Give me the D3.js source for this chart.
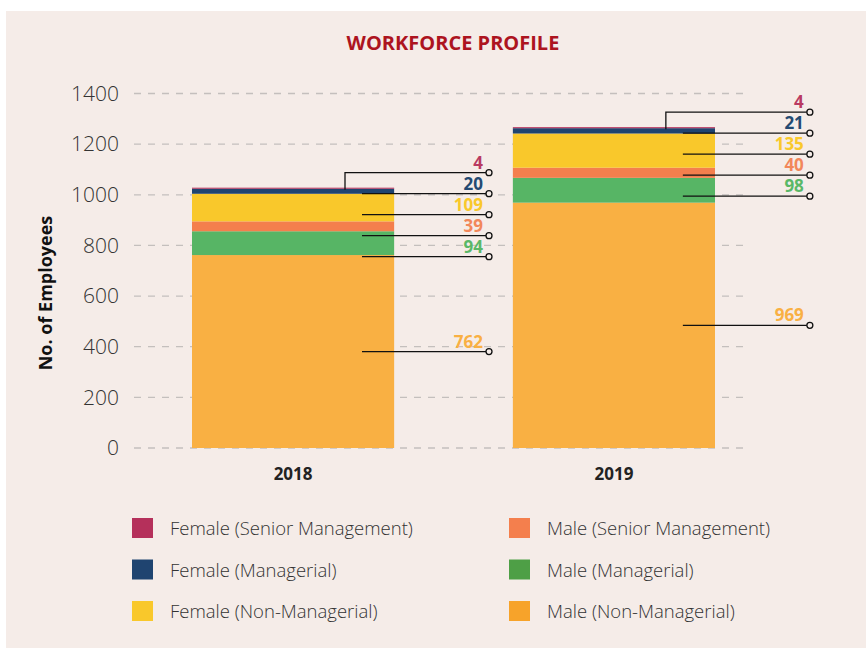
<!DOCTYPE html>
<html>
<head>
<meta charset="utf-8">
<script src="https://cdn.jsdelivr.net/npm/d3@7"></script>
<style>
  html, body { margin: 0; padding: 0; background: #fff; }
  svg text { font-family: "Open Sans", "Noto Sans", sans-serif; }
</style>
</head>
<body>
<div id="chart"></div>
<script>
// data
const years = ["2018", "2019"];
const groups = [
  "Male (Non-Managerial)", "Male (Managerial)", "Male (Senior Management)",
  "Female (Non-Managerial)", "Female (Managerial)", "Female (Senior Management)"
];
const maleNonManagerial = [762, 969];
const maleManagerial = [94, 98];
const maleSenior = [39, 40];
const femaleNonManagerial = [109, 135];
const femaleManagerial = [20, 21];
const femaleSenior = [4, 4];
const yTicks = [0, 200, 400, 600, 800, 1000, 1200, 1400];

const seriesValues = [maleNonManagerial, maleManagerial, maleSenior,
                      femaleNonManagerial, femaleManagerial, femaleSenior];

// colours
const barColors = ["#f9b043", "#57b565", "#f47f4d", "#f9c82b", "#1f4470", "#b5305b"];
const legendColors = ["#f7a32a", "#4e9f46", "#f47f4d", "#f9c82b", "#1f4470", "#b5305b"];
const labelColors = ["#f9b043", "#5ab867", "#f2875a", "#f9c82b", "#244a72", "#b93a62"];

const width = 866, height = 648;
const bg = "#f5ece8";

// build table for d3.stack
const table = years.map((y, i) => {
  const row = { year: y };
  groups.forEach((g, k) => row[g] = seriesValues[k][i]);
  return row;
});
const stacked = d3.stack().keys(groups)(table);

const svg = d3.select("#chart")
  .append("svg")
  .attr("width", width)
  .attr("height", height);

// panel
svg.append("rect")
  .attr("x", 6).attr("y", 11)
  .attr("width", width - 6).attr("height", height - 11)
  .attr("fill", bg);

// title
svg.append("text")
  .attr("x", 453).attr("y", 50)
  .attr("text-anchor", "middle")
  .style("font-size", "20px")
  .style("font-weight", "bold")
  .attr("fill", "#ad141f")
  .text("WORKFORCE PROFILE");

// scales
const x = d3.scaleBand()
  .domain(years)
  .range([192, 715])
  .paddingInner(0.37)
  .paddingOuter(0);

const y = d3.scaleLinear()
  .domain([0, 1400])
  .range([448, 93.5]);

// grid
svg.append("g")
  .selectAll("line")
  .data(yTicks)
  .enter().append("line")
  .attr("x1", 134).attr("x2", 748)
  .attr("y1", d => y(d)).attr("y2", d => y(d))
  .attr("stroke", "#c4bfbd")
  .attr("stroke-width", 1.3)
  .attr("stroke-dasharray", "7,7");

// y axis labels
const yAxis = svg.append("g")
  .attr("transform", "translate(127,0)")
  .call(d3.axisLeft(y).tickValues(yTicks).tickFormat(d3.format("d")).tickSize(0).tickPadding(8));
yAxis.select(".domain").remove();
yAxis.selectAll("text")
  .style("font-size", "21px")
  .style("font-weight", "300")
  .attr("fill", "#333");

// y axis title
svg.append("text")
  .attr("transform", "translate(52,293) rotate(-90)")
  .attr("text-anchor", "middle")
  .style("font-size", "18px")
  .style("font-weight", "bold")
  .attr("fill", "#111")
  .text("No. of Employees");

// bars
svg.append("g")
  .selectAll("g")
  .data(stacked)
  .enter().append("g")
  .attr("fill", (d, k) => barColors[k])
  .selectAll("rect")
  .data(d => d)
  .enter().append("rect")
  .attr("x", d => x(d.data.year))
  .attr("y", d => y(d[1]))
  .attr("width", x.bandwidth())
  .attr("height", d => y(d[0]) - y(d[1]));

// x labels
const xAxis = svg.append("g")
  .attr("transform", "translate(0,458)")
  .call(d3.axisBottom(x).tickSize(0).tickPadding(10));
xAxis.select(".domain").remove();
xAxis.selectAll("text")
  .style("font-size", "17px")
  .style("font-weight", "bold")
  .attr("fill", "#222");

// leader lines and value labels, placed top-down so they don't collide
const ann = svg.append("g");
const labelGap = 21;
years.forEach((yr, i) => {
  const bx = x(yr);
  const x0 = bx + 170, x1 = bx + 297;
  let prev = -Infinity;
  for (let k = stacked.length - 1; k >= 0; k--) {
    const d = stacked[k][i];
    const val = d[1] - d[0];
    let ly;
    if (k === stacked.length - 1) {
      // top segment: elbow line above bar
      ly = y(d[1]) - 15;
      ann.append("path")
        .attr("d", `M${bx + 153},${y(d[1]) + 2}V${ly}H${x1}`)
        .attr("fill", "none")
        .attr("stroke", "#111")
        .attr("stroke-width", 1.3);
    } else {
      ly = Math.max(y((d[0] + d[1]) / 2), prev + labelGap);
      ann.append("line")
        .attr("x1", x0).attr("x2", x1)
        .attr("y1", ly).attr("y2", ly)
        .attr("stroke", "#111")
        .attr("stroke-width", 1.3);
    }
    prev = ly;
    ann.append("circle")
      .attr("cx", x1).attr("cy", ly).attr("r", 3)
      .attr("fill", bg)
      .attr("stroke", "#111")
      .attr("stroke-width", 1.3);
    ann.append("text")
      .attr("x", x1 - 6).attr("y", ly - 4)
      .attr("text-anchor", "end")
      .style("font-size", "17px")
      .style("font-weight", "bold")
      .attr("fill", labelColors[k])
      .text(val);
  }
});

// legend: left column female, right column male
const legendOrder = [5, 4, 3, 2, 1, 0];
const legend = svg.append("g");
legendOrder.forEach((k, i) => {
  const col = Math.floor(i / 3), row = i % 3;
  const lx = col === 0 ? 132 : 509;
  const ly = 518 + row * 41.5;
  legend.append("rect")
    .attr("x", lx).attr("y", ly)
    .attr("width", 21).attr("height", 20)
    .attr("fill", legendColors[k]);
  legend.append("text")
    .attr("x", lx + 38).attr("y", ly + 17)
    .style("font-size", "18.5px")
    .style("font-weight", "300")
    .attr("fill", "#333")
    .text(groups[k]);
});
</script>
</body>
</html>
